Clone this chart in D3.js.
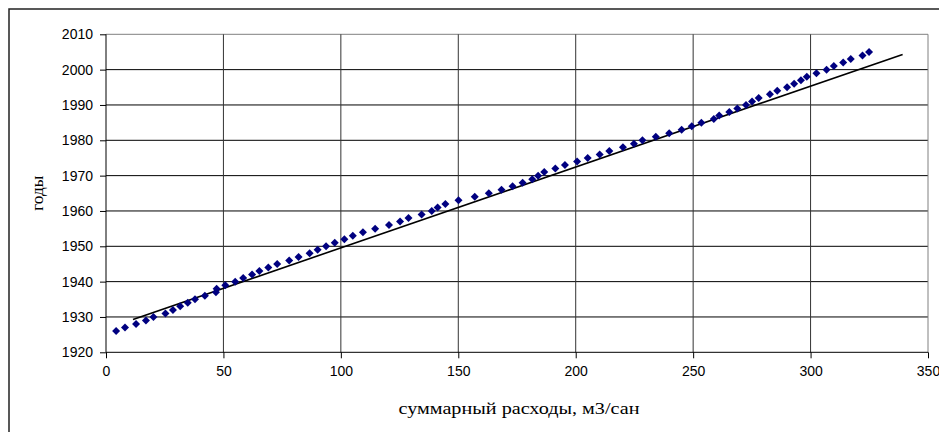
<!DOCTYPE html>
<html>
<head>
<meta charset="utf-8">
<script src="https://cdn.jsdelivr.net/npm/d3@7/dist/d3.min.js"></script>
<style>
  body { margin: 0; background: #fff; }
  .tick text { font-family: "Liberation Sans", Arial, sans-serif; font-size: 14px; fill: #000; }
  .title { font-family: "Liberation Serif", "Times New Roman", serif; font-size: 16px; fill: #000; }
</style>
</head>
<body>
<svg id="chart" width="939" height="432"></svg>
<script>
// years of observation (y axis)
const years = d3.range(1926, 2006);
// cumulative discharge for each year, м3/сан (x axis)
const discharge = [
  4.3, 8.1, 12.8, 17.0, 20.2, 25.3, 28.5, 31.6, 34.8, 37.9,
  42.1, 46.8, 47.1, 50.8, 55.0, 58.4, 62.2, 65.3, 69.1, 72.9,
  78.0, 82.0, 86.7, 90.1, 93.7, 97.4, 101.5, 105.1, 109.4, 114.6,
  120.5, 125.2, 128.8, 134.4, 138.7, 141.2, 144.5, 150.1, 157.0, 163.0,
  168.4, 173.1, 177.4, 181.5, 184.0, 186.6, 191.3, 195.4, 200.6, 205.1,
  210.2, 214.3, 220.1, 224.8, 228.4, 234.1, 239.8, 245.1, 249.4, 253.5,
  258.8, 261.1, 265.4, 268.8, 272.5, 275.1, 277.9, 282.7, 285.8, 290.0,
  293.0, 295.9, 298.4, 302.5, 306.8, 309.9, 313.9, 317.1, 322.1, 324.9
];
// linear trend line end points
const trendX = [11.5, 339.2];
const trendY = [1929.3, 2004.3];

const xTicks = [0, 50, 100, 150, 200, 250, 300, 350];
const yTicks = [1920, 1930, 1940, 1950, 1960, 1970, 1980, 1990, 2000, 2010];

const svg = d3.select("#chart");

// outer chart frame (runs off the right and bottom edge)
svg.append("rect")
  .attr("x", 9).attr("y", 9)
  .attr("width", 960).attr("height", 460)
  .attr("fill", "none")
  .attr("stroke", "#222")
  .attr("stroke-width", 1.5);

const plotLeft = 106, plotRight = 928, plotTop = 34.3, plotBottom = 352.3;

const x = d3.scaleLinear().domain([0, 350]).range([plotLeft, plotRight]);
const y = d3.scaleLinear().domain([1920, 2010]).range([plotBottom, plotTop]);

// grid
const grid = svg.append("g");
grid.selectAll("line.h").data(yTicks.slice(1)).enter().append("line")
  .attr("class", "h")
  .attr("x1", plotLeft).attr("x2", plotRight)
  .attr("y1", d => y(d)).attr("y2", d => y(d))
  .attr("stroke", d => d === 2010 ? "#808080" : "#000")
  .attr("stroke-width", 1);
grid.selectAll("line.v").data(xTicks.slice(1)).enter().append("line")
  .attr("class", "v")
  .attr("x1", d => x(d)).attr("x2", d => x(d))
  .attr("y1", plotTop).attr("y2", plotBottom)
  .attr("stroke", d => d === 350 ? "#808080" : "#333")
  .attr("stroke-width", 1);

// axes
const xAxis = d3.axisBottom(x).tickValues(xTicks).tickSize(6).tickPadding(8).tickFormat(d3.format("d"));
const yAxis = d3.axisLeft(y).tickValues(yTicks).tickSize(6).tickPadding(7).tickFormat(d3.format("d"));

const gx = svg.append("g").attr("transform", `translate(0,${plotBottom})`).call(xAxis);
const gy = svg.append("g").attr("transform", `translate(${plotLeft},0)`).call(yAxis);
[gx, gy].forEach(g => {
  g.select(".domain").attr("stroke", "#000");
  g.selectAll(".tick line").attr("stroke", "#000");
  g.selectAll(".tick text").attr("font-family", null).attr("font-size", null);
});
gx.select(".domain").attr("d", `M${plotLeft},0H${plotRight}`);
gy.select(".domain").attr("d", `M0,${plotBottom}V${plotTop}`);

// trend line
svg.append("line")
  .attr("x1", x(trendX[0])).attr("y1", y(trendY[0]))
  .attr("x2", x(trendX[1])).attr("y2", y(trendY[1]))
  .attr("stroke", "#000")
  .attr("stroke-width", 1.6);

// diamond markers
const diamond = d3.symbol().type(d3.symbolSquare).size(32);
svg.append("g").selectAll("path")
  .data(years.map((yr, i) => ({ yr: yr, q: discharge[i] })))
  .enter().append("path")
  .attr("d", diamond)
  .attr("transform", d => `translate(${x(d.q)},${y(d.yr)}) rotate(45)`)
  .attr("fill", "#000080");

// axis titles
svg.append("text")
  .attr("class", "title")
  .attr("transform", `translate(43,${(plotTop + plotBottom) / 2}) rotate(-90)`)
  .attr("text-anchor", "middle")
  .attr("textLength", 35)
  .attr("lengthAdjust", "spacingAndGlyphs")
  .text("годы");

svg.append("text")
  .attr("class", "title")
  .attr("x", 519)
  .attr("y", 414)
  .attr("text-anchor", "middle")
  .attr("textLength", 241)
  .attr("lengthAdjust", "spacingAndGlyphs")
  .text("суммарный расходы, м3/сан");
</script>
</body>
</html>
